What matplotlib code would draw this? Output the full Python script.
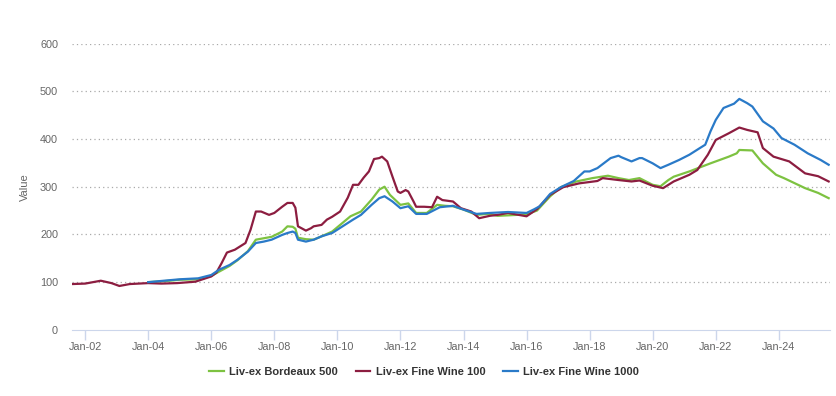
import numpy as np
import pandas as pd
import matplotlib
matplotlib.use("Agg")
import matplotlib.pyplot as plt
import matplotlib.dates as mdates

plt.rcParams['font.family'] = ['Liberation Sans', 'DejaVu Sans']

# Liv-ex Fine Wine 100
fw100_dates = ["2001-08", "2002-01", "2002-07", "2002-11", "2003-02", "2003-06", "2004-01",
               "2004-06", "2004-12", "2005-07", "2006-01", "2006-03", "2006-05", "2006-07",
               "2006-10", "2007-02", "2007-04", "2007-06", "2007-08", "2007-11", "2008-01",
               "2008-04", "2008-06", "2008-08", "2008-09", "2008-10", "2009-01", "2009-03",
               "2009-04", "2009-07", "2009-09", "2009-11", "2010-02", "2010-05", "2010-07",
               "2010-09", "2010-11", "2011-01", "2011-03", "2011-05", "2011-06", "2011-08",
               "2011-10", "2011-12", "2012-01", "2012-03", "2012-04", "2012-06", "2012-07",
               "2012-10", "2013-01", "2013-03", "2013-05", "2013-09", "2013-12", "2014-04",
               "2014-07", "2014-11", "2015-02", "2015-06", "2016-01", "2016-05", "2016-10",
               "2017-03", "2017-09", "2018-04", "2018-06", "2018-12", "2019-05", "2019-08",
               "2020-01", "2020-05", "2020-09", "2021-03", "2021-06", "2021-10", "2022-01",
               "2022-06", "2022-10", "2023-01", "2023-05", "2023-07", "2023-11", "2024-05",
               "2024-11", "2025-04", "2025-08"]
fw100_values = [96, 97, 103, 98, 92, 96, 98,
                97, 98, 101, 112, 120, 140, 162,
                168, 182, 210, 248, 248, 241, 245,
                258, 266, 266, 256, 217, 208, 213,
                217, 220, 231, 237, 248, 277, 304,
                304, 319, 332, 358, 360, 363, 353,
                321, 290, 287, 293, 290, 269, 258,
                258, 257, 279, 272, 269, 255, 248,
                234, 239, 241, 245, 238, 253, 283,
                299, 307, 312, 318, 314, 311, 313,
                302, 297, 311, 325, 335, 367, 398,
                412, 424, 419, 414, 381, 363, 353,
                328, 322, 311]

# Liv-ex Fine Wine 1000
fw1000_dates = ["2004-01", "2004-07", "2005-01", "2005-08", "2006-01", "2006-04", "2006-08",
                "2006-11", "2007-03", "2007-06", "2007-09", "2007-12", "2008-04", "2008-06",
                "2008-08", "2008-09", "2008-10", "2009-01", "2009-04", "2009-07", "2009-11",
                "2010-07", "2010-10", "2011-02", "2011-05", "2011-07", "2011-10", "2012-01",
                "2012-04", "2012-07", "2012-11", "2013-04", "2013-09", "2014-01", "2014-06",
                "2014-11", "2015-06", "2016-01", "2016-04", "2016-06", "2016-10", "2017-02",
                "2017-07", "2017-11", "2018-01", "2018-04", "2018-09", "2018-12", "2019-01",
                "2019-05", "2019-08", "2019-09", "2020-01", "2020-04", "2020-07", "2020-11",
                "2021-03", "2021-07", "2021-09", "2021-11", "2022-01", "2022-04", "2022-08",
                "2022-10", "2023-01", "2023-03", "2023-07", "2023-11", "2024-02", "2024-07",
                "2024-12", "2025-05", "2025-08"]
fw1000_values = [100, 103, 106, 108, 115, 126, 136,
                 147, 164, 182, 185, 189, 199, 203,
                 206, 203, 189, 185, 189, 196, 203,
                 231, 241, 262, 276, 280, 269, 255,
                 259, 243, 243, 257, 260, 252, 243,
                 245, 247, 245, 253, 259, 285, 299,
                 312, 332, 332, 339, 360, 365, 362,
                 353, 360, 360, 349, 339, 346, 356,
                 367, 381, 388, 416, 440, 465, 474,
                 484, 475, 468, 437, 422, 402, 388,
                 370, 356, 346]

# Liv-ex Bordeaux 500
bx500_dates = ["2004-01", "2004-07", "2005-01", "2005-08", "2006-01", "2006-04", "2006-08",
               "2006-11", "2007-03", "2007-06", "2007-09", "2007-12", "2008-04", "2008-06",
               "2008-08", "2008-09", "2008-10", "2009-01", "2009-04", "2009-07", "2009-11",
               "2010-06", "2010-10", "2011-02", "2011-05", "2011-07", "2011-09", "2012-01",
               "2012-04", "2012-07", "2012-11", "2013-03", "2013-06", "2013-09", "2014-01",
               "2014-06", "2014-10", "2015-02", "2015-06", "2016-01", "2016-05", "2016-10",
               "2017-02", "2017-08", "2018-02", "2018-08", "2018-12", "2019-04", "2019-08",
               "2020-01", "2020-04", "2020-07", "2020-09", "2021-03", "2021-11", "2022-06",
               "2022-09", "2022-10", "2023-03", "2023-07", "2023-12", "2024-03", "2024-11",
               "2025-04", "2025-08"]
bx500_values = [100, 102, 105, 106, 113, 122, 134,
                146, 165, 189, 192, 195, 206, 217,
                216, 212, 193, 190, 189, 196, 206,
                238, 248, 273, 294, 300, 283, 262,
                265, 245, 245, 262, 260, 259, 252,
                241, 243, 239, 240, 242, 250, 280,
                299, 311, 318, 323, 318, 314, 318,
                304, 301, 314, 321, 332, 349, 363,
                370, 377, 376, 349, 325, 318, 297,
                287, 276]

yticks = [0, 100, 200, 300, 400, 500, 600]

fig = plt.figure(figsize=(8.37, 3.96), dpi=100)
ax = fig.add_axes([0.086, 0.167, 0.906, 0.723])

ax.plot(pd.to_datetime(bx500_dates), bx500_values, color="#7dc241", lw=1.6, label="Liv-ex Bordeaux 500", zorder=3)
ax.plot(pd.to_datetime(fw100_dates), fw100_values, color="#8c1d40", lw=1.6, label="Liv-ex Fine Wine 100", zorder=4)
ax.plot(pd.to_datetime(fw1000_dates), fw1000_values, color="#2a7ac8", lw=1.6, label="Liv-ex Fine Wine 1000", zorder=5)

ax.set_xlim(pd.Timestamp("2001-08-01"), pd.Timestamp("2025-08-20"))
ax.set_ylim(0, 600)
ax.set_yticks(yticks)
for v in yticks[1:]:
    ax.axhline(v, color="#aaaaaa", lw=0.9, ls=(0, (1, 2.5)), zorder=1)

ax.xaxis.set_major_locator(mdates.YearLocator(2, month=1, day=1))
ax.xaxis.set_major_formatter(mdates.DateFormatter("Jan-%y"))

for s in ["top", "right", "left"]:
    ax.spines[s].set_visible(False)
ax.spines["bottom"].set_color("#ccd6eb")
ax.tick_params(axis="x", colors="#ccd6eb", length=7, width=1, labelcolor="#666666", labelsize=7.8, pad=2)
ax.tick_params(axis="y", length=0, labelcolor="#666666", labelsize=7.8, pad=10)
ax.set_ylabel("Value", color="#666666", fontsize=8, labelpad=7)

fig.legend(loc="center", bbox_to_anchor=(0.507, 0.061), ncol=3, frameon=False,
           handlelength=1.3, handletextpad=0.5, columnspacing=1.6,
           prop={"weight": "bold", "size": 8}, labelcolor="#333333")

fig.savefig("out.png", dpi=100, facecolor="white")
